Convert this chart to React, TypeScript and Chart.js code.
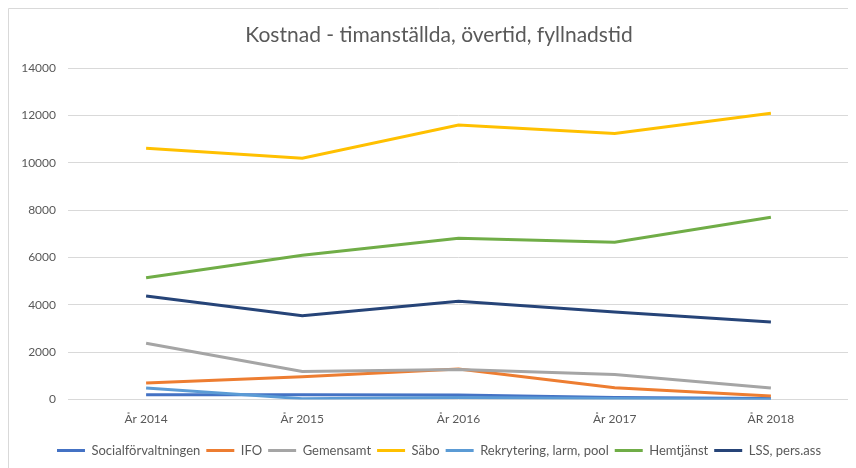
import React, { useEffect, useRef } from "react";
import { Chart, registerables } from "chart.js";

Chart.register(...registerables);

const categories = ["År 2014", "År 2015", "År 2016", "År 2017", "ÅR 2018"];
const socialforvaltningen = [200, 210, 190, 90, 50];
const ifo = [700, 970, 1290, 500, 150];
const gemensamt = [2380, 1190, 1270, 1060, 490];
const sabo = [10620, 10200, 11600, 11240, 12100];
const rekrytering = [490, 40, 90, 50, 20];
const hemtjanst = [5150, 6100, 6820, 6650, 7700];
const lss = [4380, 3540, 4150, 3700, 3280];
const yTicks = [0, 2000, 4000, 6000, 8000, 10000, 12000, 14000];

const seriesNames = [
  "Socialförvaltningen",
  "IFO",
  "Gemensamt",
  "Säbo",
  "Rekrytering, larm, pool",
  "Hemtjänst",
  "LSS, pers.ass",
];
const seriesData = [socialforvaltningen, ifo, gemensamt, sabo, rekrytering, hemtjanst, lss];
const seriesColors = ["#4472C4", "#ED7D31", "#A5A5A5", "#FFC000", "#5B9BD5", "#70AD47", "#264478"];

const FONT = "Lato, 'Open Sans', sans-serif";

export default function App() {
  const ref = useRef<HTMLCanvasElement | null>(null);
  useEffect(() => {
    if (!ref.current) return;
    document.body.style.overflow = "hidden";
    const borderPlugin = {
      id: "outerBorder",
      beforeDraw(chart: any) {
        const ctx = chart.ctx;
        ctx.save();
        ctx.fillStyle = "#ffffff";
        ctx.fillRect(0, 0, chart.width, chart.height);
        ctx.strokeStyle = "#D9D9D9";
        ctx.lineWidth = 1;
        ctx.beginPath();
        ctx.moveTo(0.5, chart.height);
        ctx.lineTo(0.5, 0.5);
        ctx.lineTo(chart.width, 0.5);
        ctx.stroke();
        ctx.restore();
      },
    };
    const chart = new Chart(ref.current, {
      type: "line",
      data: {
        labels: categories,
        datasets: seriesNames.map((name, i) => ({
          label: name,
          data: seriesData[i],
          borderColor: seriesColors[i],
          backgroundColor: seriesColors[i],
          borderWidth: 3,
          pointRadius: 0,
          tension: 0,
          fill: false,
          order: seriesNames.length - i,
          yAxisID: "y",
        })),
      },
      options: {
        animation: false,
        responsive: false,
        maintainAspectRatio: false,
        layout: { padding: { left: 0, right: 0, top: 0, bottom: 1 } },
        plugins: {
          title: {
            display: true,
            text: "Kostnad - timanställda, övertid, fyllnadstid",
            color: "#595959",
            font: { family: FONT, size: 21, weight: "normal" },
            padding: { top: 15, bottom: 20 },
          },
          legend: {
            position: "bottom",
            labels: {
              color: "#595959",
              font: { family: FONT, size: 13 },
              usePointStyle: true,
              pointStyle: "line",
              pointStyleWidth: 28,
              padding: 6,
              sort: (a: any, b: any) => a.datasetIndex - b.datasetIndex,
            },
          },
          tooltip: { enabled: false },
        },
        scales: {
          x: {
            offset: true,
            grid: { display: false, drawTicks: false },
            border: { display: false },
            ticks: {
              color: "#595959",
              font: { family: FONT, size: 12 },
              padding: 12,
              maxRotation: 0,
            },
          },
          y: {
            min: 0,
            max: 14000,
            afterBuildTicks: (scale: any) => {
              scale.ticks = yTicks.map((v) => ({ value: v }));
            },
            afterFit: (scale: any) => {
              scale.width = 60;
            },
            grid: { color: "#D9D9D9", lineWidth: 1, drawTicks: false },
            border: { display: false },
            ticks: {
              color: "#595959",
              font: { family: FONT, size: 12 },
              padding: 12,
              callback: (v: any) => String(v),
            },
          },
          yRight: {
            position: "right",
            display: true,
            min: 0,
            max: 14000,
            grid: { display: false, drawTicks: false },
            border: { display: false },
            ticks: { display: false },
            afterFit: (scale: any) => {
              scale.width = 21;
            },
          },
        },
      },
      plugins: [borderPlugin],
    });
    return () => chart.destroy();
  }, []);
  return <canvas ref={ref} width={862} height={460} style={{ display: "block" }} />;
}
